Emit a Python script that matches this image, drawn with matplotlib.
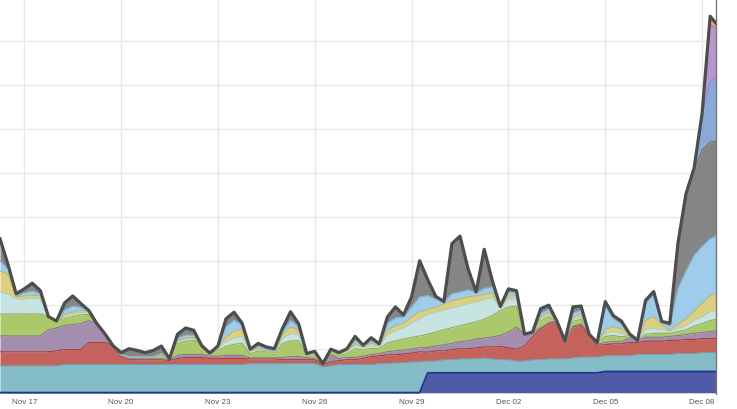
import numpy as np
import pandas as pd
import matplotlib
matplotlib.use("Agg")
import matplotlib.pyplot as plt
import matplotlib.dates as mdates

# 6-hourly samples, Nov 16 06:00 -> Dec 08 12:00
dates = pd.date_range("2017-11-16 06:00", periods=90, freq="6h")

# stacked layers, bottom to top (arbitrary units, grid = 10)
navy = [0] * 53 + [
    4.5, 4.5, 4.5, 4.5, 4.5, 4.5, 4.5,
    4.5, 4.5, 4.5, 4.5, 4.5, 4.5, 4.5, 4.5, 4.5, 4.5,
    4.5, 4.5, 4.5, 4.5, 4.5, 4.8, 4.8, 4.8, 4.8, 4.8,
    4.8, 4.8, 4.8, 4.8, 4.8, 4.8, 4.8, 4.8, 4.8, 4.8]
teal = [6.1, 6.1, 6.1, 6.1, 6.1, 6.1, 6.1, 6.1, 6.4, 6.4,
        6.4, 6.4, 6.4, 6.4, 6.4, 6.4, 6.4, 6.4, 6.4, 6.4,
        6.4, 6.4, 6.4, 6.4, 6.4, 6.4, 6.4, 6.4, 6.4, 6.4,
        6.4, 6.6, 6.6, 6.6, 6.6, 6.6, 6.6, 6.6, 6.6, 6.6,
        5.9, 6.1, 6.4, 6.4, 6.4, 6.4, 6.4, 6.6, 6.6, 6.8,
        6.8, 7.0, 7.0, 2.7, 2.7, 3.0, 3.0, 3.2, 3.2, 3.2,
        3.4, 3.2, 3.0, 3.0, 2.7, 2.7, 3.0, 3.0, 3.2, 3.2,
        3.2, 3.4, 3.6, 3.6, 3.6, 3.6, 3.6, 3.6, 3.6, 3.9,
        3.9, 3.9, 3.9, 3.9, 4.1, 4.1, 4.1, 4.3, 4.3, 4.3]
red = [3.2, 3.2, 3.2, 3.2, 3.2, 3.2, 3.2, 3.4, 3.4, 3.4,
       3.4, 5.0, 5.0, 5.0, 4.3, 1.8, 1.1, 1.1, 1.1, 1.1,
       1.1, 0.9, 1.4, 1.6, 1.6, 1.6, 1.4, 1.4, 1.4, 1.4,
       1.4, 1.1, 1.1, 1.1, 1.1, 0.9, 0.9, 0.9, 0.9, 0.9,
       0.5, 0.9, 0.9, 1.1, 1.1, 1.4, 1.8, 1.8, 2.0, 1.8,
       2.0, 2.0, 2.3, 2.0, 2.3, 2.0, 2.3, 2.3, 2.3, 2.5,
       2.5, 2.7, 3.0, 2.7, 2.7, 3.4, 5.2, 7.0, 8.0, 8.6,
       4.1, 7.0, 7.3, 5.2, 2.7, 2.5, 2.7, 2.7, 3.0, 2.7,
       3.0, 3.0, 3.0, 3.2, 3.0, 3.2, 3.2, 3.2, 3.2, 3.2]
purple = [3.6, 3.6, 3.6, 3.6, 3.6, 3.6, 5.0, 5.2, 5.5, 5.7,
          5.9, 5.0, 4.3, 2.0, 0, 0.2, 0.2, 0.2, 0.2, 0.2,
          0.2, 0.2, 0.7, 0.7, 0.7, 0.7, 0.5, 0.5, 0.7, 0.7,
          0.7, 0.2, 0.2, 0.2, 0.2, 0.5, 0.7, 0.7, 0.5, 0.2,
          0.2, 1.6, 0.5, 0.5, 0.5, 0.5, 0.5, 0.5, 0.7, 0.9,
          0.9, 0.9, 0.9, 1.1, 1.1, 1.4, 1.4, 1.6, 1.8, 2.0,
          2.0, 2.3, 2.5, 3.6, 5.0, 2.7, 1.1, 0.2, 0.2, 0,
          0, 0.2, 0.2, 0, 0.2, 0.5, 0.5, 0.5, 1.1, 0.5,
          0.9, 0.9, 0.9, 0.9, 1.1, 1.1, 1.4, 1.4, 1.6, 1.8]
green = [5.0, 5.0, 5.0, 5.0, 5.0, 5.0, 3.0, 1.6, 1.6, 1.8,
         2.0, 1.4, 0, 0, 0, 0.2, 0.5, 0.5, 0.5, 0.5,
         1.1, 0.2, 2.7, 3.0, 3.2, 2.0, 0.5, 1.4, 2.0, 2.5,
         2.7, 0.9, 1.6, 1.4, 0.7, 3.2, 3.6, 3.6, 0.5, 0.9,
         0, 0.7, 0.7, 0.9, 2.0, 1.4, 1.4, 1.1, 2.0, 2.3,
         2.5, 2.7, 2.7, 3.0, 3.2, 3.4, 3.6, 3.6, 3.9, 3.9,
         4.3, 4.8, 5.7, 5.7, 4.8, 0, 0, 1.6, 1.4, 0,
         0, 1.1, 1.1, 0, 0.2, 1.4, 1.4, 1.1, 0.5, 0,
         0.7, 0.9, 0.9, 0.7, 0.9, 1.1, 1.6, 2.0, 2.5, 2.7]
cyan = [5.0, 4.5, 3.4, 3.4, 3.6, 3.4, 0, 0, 0.5, 0.5,
        0.5, 0.5, 0, 0, 0, 0, 0, 0, 0, 0,
        0, 0, 0.5, 0.5, 0.5, 0, 0, 0.5, 1.1, 1.4,
        1.6, 0.5, 0.5, 0.2, 0.2, 1.1, 1.6, 1.4, 0.2, 0.2,
        0, 0.2, 0.2, 0.5, 0.7, 0.5, 0.7, 0.5, 1.8, 2.3,
        2.5, 3.2, 3.9, 4.5, 4.5, 4.5, 4.5, 4.5, 4.5, 4.5,
        4.5, 4.1, 0.5, 1.8, 1.6, 0, 0, 0.5, 0.5, 0,
        0, 0.5, 0.5, 0, 0, 0.7, 0.9, 0.7, 0.2, 0,
        1.1, 1.1, 0.9, 0.5, 0.7, 0.9, 1.4, 1.6, 2.0, 2.0]
yellow = [4.8, 4.5, 0.5, 0.7, 0.7, 0.7, 0, 0, 0.5, 0.5,
          0.5, 0.2, 0, 0, 0, 0, 0, 0, 0, 0,
          0, 0, 0.2, 0.2, 0.2, 0, 0, 0.2, 1.1, 1.6,
          1.6, 0.2, 0.2, 0.2, 0.2, 0.9, 1.6, 1.1, 0.2, 0.2,
          0, 0.2, 0.2, 0.2, 0.5, 0.2, 0.5, 0.2, 1.1, 1.1,
          1.1, 1.4, 1.6, 1.1, 1.1, 1.4, 1.6, 1.6, 1.6, 1.4,
          1.1, 1.1, 0.2, 0.7, 0.7, 0, 0, 0.5, 0.5, 0,
          0, 0.5, 0.7, 0, 0, 0.9, 1.1, 1.1, 0.2, 0,
          2.0, 2.7, 1.1, 0.2, 0.9, 1.6, 2.0, 3.0, 3.6, 4.1]
lightblue = [2.3, 1.1, 0.2, 0.7, 0.9, 0.5, 0, 0, 0.9, 1.4,
             0.7, 0, 0, 0, 0, 0, 0, 0, 0, 0,
             0, 0, 0.5, 0.7, 0.5, 0, 0, 0.2, 2.3, 2.5,
             0.9, 0.2, 0.5, 0.2, 0.5, 0.7, 1.4, 0.7, 0, 0.2,
             0, 0.2, 0.2, 0.2, 0.7, 0.2, 0.5, 0.2, 1.6, 1.8,
             1.4, 2.3, 3.4, 3.2, 1.8, 0.5, 1.6, 1.6, 1.6, 0.7,
             1.4, 1.4, 0.2, 0.9, 0.7, 0, 0, 0.7, 0.7, 0,
             0, 0.9, 0.9, 0, 0.2, 5.2, 1.8, 1.1, 0, 0,
             3.9, 5.0, 0.5, 0.9, 8.2, 10.9, 12.7, 13.0, 13.0, 13.0]
gray = [5.0, 1.1, 0.5, 0.9, 1.8, 0.7, 0, 0, 1.6, 2.3,
        0.9, 0.2, 0, 0, 0, 0.5, 1.8, 1.4, 0.9, 1.4,
        1.8, 0, 0.9, 1.6, 1.1, 0, 0.2, 0, 1.8, 1.8,
        0.5, 0.2, 0.5, 0.5, 0.5, 0.7, 2.0, 0.7, 0, 0.2,
        0, 0, 0, 0.2, 0.9, 0.2, 0.7, 0.2, 1.4, 2.5,
        0.5, 2.3, 8.2, 3.6, 0.7, 0, 11.4, 12.7, 4.8, 0.2,
        8.9, 1.4, 0, 0.7, 0.5, 0, 0, 1.1, 0.9, 0,
        0, 1.4, 0.9, 0, 0, 1.1, 0.7, 0.7, 0, 0,
        0.7, 0.7, 0.2, 0.7, 10.2, 17.0, 19.3, 21.8, 22.0, 21.4]
steelblue = [0] * 85 + [0.5, 0.5, 7.7, 13.6, 14.5]
lilac = [0] * 87 + [0.7, 13.2, 10.7]
orange = [0] * 88 + [1.8, 0.9]

layers = [navy, teal, red, purple, green, cyan, yellow, lightblue,
          gray, steelblue, lilac, orange]
fills = ["#4f5ba6", "#84bcc8", "#c4625c", "#a38fad", "#abc86a", "#c8e4e2",
         "#dccf80", "#9dcdea", "#858585", "#8aa9d6", "#b996cf", "#f1a867"]
edges = ["#24358a", "#6aa6b3", "#a8403b", "#8a7594", "#8fad4f", "#a9cfcc",
         "#c3b560", "#7cb7dd", "#6d6d6d", "#6f91c4", "#9f7cb8", "#d98b4a"]

tick_dates = pd.date_range("2017-11-17", periods=8, freq="3D")

fig = plt.figure(figsize=(7.37, 4.09), dpi=100)
ax = fig.add_axes([0, 0.0367, 0.9715, 0.9633])

data = np.array(layers, dtype=float)
tops = np.cumsum(data, axis=0)
bottoms = np.vstack([np.zeros(len(dates)), tops[:-1]])

for i in range(len(layers)):
    ax.fill_between(dates, bottoms[i], tops[i], color=fills[i], lw=0, zorder=2)
for i in range(len(layers)):
    ax.plot(dates, tops[i], color=edges[i], lw=1.4 if i == 0 else 0.8, zorder=3)

# outline of the total
ax.plot(dates, tops[-1], color="#4d4d4d", lw=2.3, solid_joinstyle="round", zorder=4)

ax.set_xlim(dates[0], pd.Timestamp("2017-12-08 10:20"))
ax.set_ylim(-0.3, 89.3)
ax.set_xticks(tick_dates)
ax.xaxis.set_major_formatter(mdates.DateFormatter("%b %d"))
ax.set_yticks(np.arange(0, 90, 10))
ax.set_yticklabels([])
ax.grid(True, color="#e8e8e8", lw=1)
ax.set_axisbelow(True)
ax.tick_params(length=0, pad=3.5, labelsize=5.8, labelcolor="#555555")
for lab in ax.get_xticklabels():
    lab.set_family("Liberation Sans")

for s in ["left", "top", "bottom"]:
    ax.spines[s].set_visible(False)
ax.spines["right"].set_color("#777777")
ax.spines["right"].set_linewidth(1.0)

fig.savefig("out.png", dpi=100)
